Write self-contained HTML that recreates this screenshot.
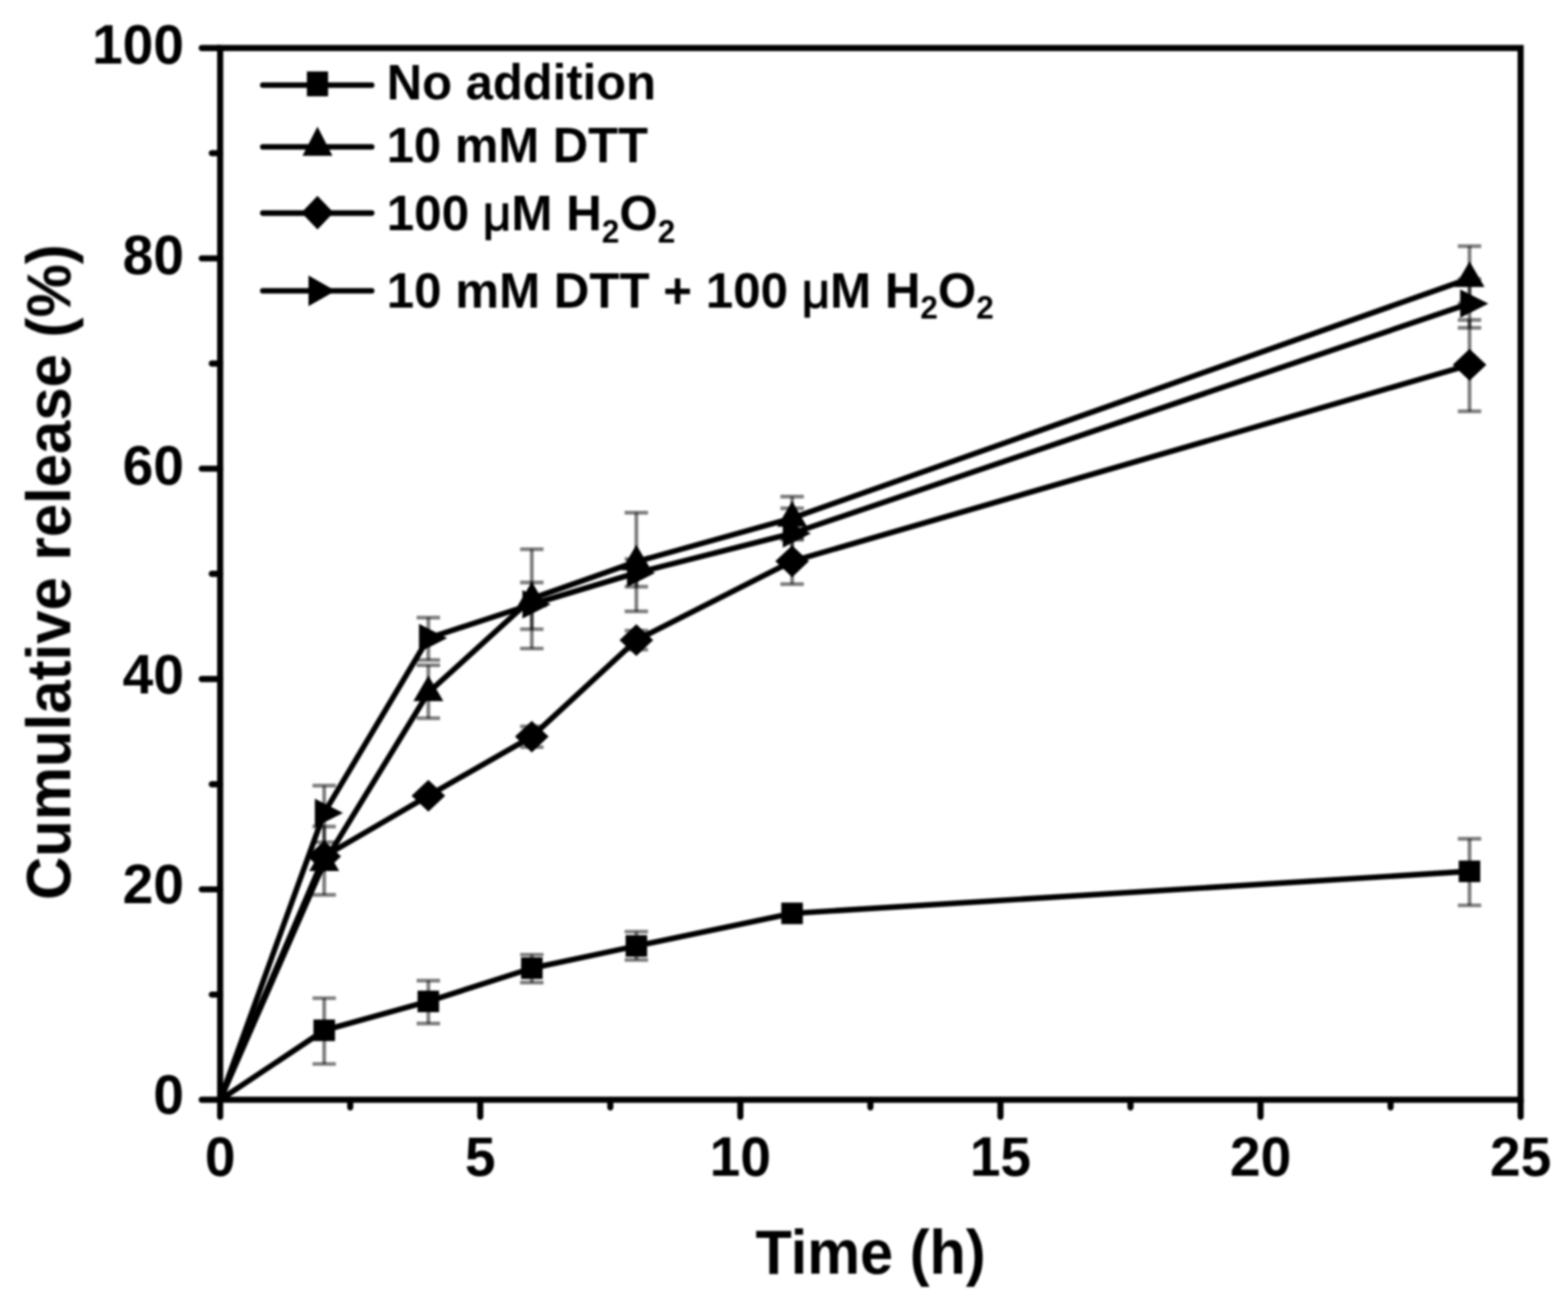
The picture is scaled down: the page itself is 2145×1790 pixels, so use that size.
<!DOCTYPE html>
<html><head><meta charset="utf-8"><title>Cumulative release</title>
<style>
html,body{margin:0;padding:0;background:#fff;}
svg{display:block;}
.sb{font-size:44.3px;}
.mu{font-weight:normal;stroke:#000;stroke-width:1.6px;}
</style></head>
<body>
<svg width="2145" height="1790" viewBox="0 0 2145 1790">
<defs><filter id="bl" x="-2%" y="-2%" width="104%" height="104%"><feGaussianBlur stdDeviation="1.6"/></filter></defs>
<rect width="2145" height="1790" fill="#fff"/>
<g filter="url(#bl)">
<g fill="none" stroke="#000" stroke-opacity="0.5" stroke-width="5.2"><path d="M443.5,1366.0V1456.0"/><path d="M427.5,1366.0H459.5"/><path d="M427.5,1456.0H459.5"/><path d="M586.0,1342.0V1400.7"/><path d="M570.0,1342.0H602.0"/><path d="M570.0,1400.7H602.0"/><path d="M727.5,1306.5V1344.6"/><path d="M711.5,1306.5H743.5"/><path d="M711.5,1344.6H743.5"/><path d="M870.5,1275.0V1313.6"/><path d="M854.5,1275.0H886.5"/><path d="M854.5,1313.6H886.5"/><path d="M2010.3,1147.8V1239.0"/><path d="M1994.3,1147.8H2026.3"/><path d="M1994.3,1239.0H2026.3"/><path d="M443.5,1131.2V1224.6"/><path d="M427.5,1131.2H459.5"/><path d="M427.5,1224.6H459.5"/><path d="M586.0,910.4V982.9"/><path d="M570.0,910.4H602.0"/><path d="M570.0,982.9H602.0"/><path d="M727.5,751.7V887.5"/><path d="M711.5,751.7H743.5"/><path d="M711.5,887.5H743.5"/><path d="M870.5,701.6V836.7"/><path d="M854.5,701.6H886.5"/><path d="M854.5,836.7H886.5"/><path d="M1083.6,679.6V738.6"/><path d="M1067.6,679.6H1099.6"/><path d="M1067.6,738.6H1099.6"/><path d="M2010.3,336.8V415.0"/><path d="M1994.3,336.8H2026.3"/><path d="M1994.3,415.0H2026.3"/><path d="M727.5,994.2V1022.5"/><path d="M711.5,994.2H743.5"/><path d="M711.5,1022.5H743.5"/><path d="M870.5,863.0V889.0"/><path d="M854.5,863.0H886.5"/><path d="M854.5,889.0H886.5"/><path d="M1083.6,736.7V799.3"/><path d="M1067.6,736.7H1099.6"/><path d="M1067.6,799.3H1099.6"/><path d="M2010.3,437.9V562.9"/><path d="M1994.3,437.9H2026.3"/><path d="M1994.3,562.9H2026.3"/><path d="M443.5,1075.2V1152.7"/><path d="M427.5,1075.2H459.5"/><path d="M427.5,1152.7H459.5"/><path d="M586.0,845.2V903.2"/><path d="M570.0,845.2H602.0"/><path d="M570.0,903.2H602.0"/><path d="M727.5,797.1V861.0"/><path d="M711.5,797.1H743.5"/><path d="M711.5,861.0H743.5"/><path d="M870.5,765.1V802.9"/><path d="M854.5,765.1H886.5"/><path d="M854.5,802.9H886.5"/><path d="M1083.6,695.6V764.4"/><path d="M1067.6,695.6H1099.6"/><path d="M1067.6,764.4H1099.6"/><path d="M2010.3,382.2V448.6"/><path d="M1994.3,382.2H2026.3"/><path d="M1994.3,448.6H2026.3"/></g>
<polyline points="301.2,1505.0 443.5,1410.0 586.0,1370.4 727.5,1325.0 870.5,1294.6 1083.6,1250.0 2010.3,1192.4" fill="none" stroke="#000" stroke-width="7.6" stroke-linejoin="round" stroke-linecap="round"/>
<polyline points="301.2,1505.0 443.5,1172.0 586.0,1089.0 727.5,1008.1 870.5,876.0 1083.6,768.1 2010.3,499.3" fill="none" stroke="#000" stroke-width="7.6" stroke-linejoin="round" stroke-linecap="round"/>
<polyline points="301.2,1505.0 443.5,1112.4 586.0,873.3 727.5,827.0 870.5,784.0 1083.6,730.0 2010.3,415.4" fill="none" stroke="#000" stroke-width="7.6" stroke-linejoin="round" stroke-linecap="round"/>
<polyline points="301.2,1505.0 443.5,1180.4 586.0,947.8 727.5,819.2 870.5,768.7 1083.6,709.1 2010.3,381.1" fill="none" stroke="#000" stroke-width="7.6" stroke-linejoin="round" stroke-linecap="round"/>
<g fill="#000"><rect x="428.8" y="1395.2" width="29.5" height="29.5"/><rect x="571.2" y="1355.7" width="29.5" height="29.5"/><rect x="712.8" y="1310.2" width="29.5" height="29.5"/><rect x="855.8" y="1279.8" width="29.5" height="29.5"/><rect x="1068.8" y="1235.2" width="29.5" height="29.5"/><rect x="1995.5" y="1177.7" width="29.5" height="29.5"/><path d="M443.5,1150.2L466.5,1172.0L443.5,1193.8L420.5,1172.0Z"/><path d="M586.0,1067.2L609.0,1089.0L586.0,1110.8L563.0,1089.0Z"/><path d="M727.5,986.4L750.5,1008.1L727.5,1029.8L704.5,1008.1Z"/><path d="M870.5,854.2L893.5,876.0L870.5,897.8L847.5,876.0Z"/><path d="M1083.6,746.4L1106.6,768.1L1083.6,789.9L1060.6,768.1Z"/><path d="M2010.3,477.6L2033.3,499.3L2010.3,521.0L1987.3,499.3Z"/><path d="M430.7,1092.9L469.2,1112.4L430.7,1131.9Z"/><path d="M573.2,853.8L611.7,873.3L573.2,892.8Z"/><path d="M714.7,807.5L753.2,827.0L714.7,846.5Z"/><path d="M857.7,764.5L896.2,784.0L857.7,803.5Z"/><path d="M1070.8,710.5L1109.3,730.0L1070.8,749.5Z"/><path d="M1997.5,395.9L2036.0,415.4L1997.5,434.9Z"/><path d="M443.5,1157.1L464.0,1192.1L423.0,1192.1Z"/><path d="M586.0,924.5L606.5,959.5L565.5,959.5Z"/><path d="M727.5,795.9L748.0,830.9L707.0,830.9Z"/><path d="M870.5,745.4L891.0,780.4L850.0,780.4Z"/><path d="M1083.6,685.8L1104.1,720.8L1063.1,720.8Z"/><path d="M2010.3,357.8L2030.8,392.8L1989.8,392.8Z"/></g>
<rect x="301.2" y="65.7" width="1779.0" height="1439.3" fill="none" stroke="#000" stroke-width="8.4"/>
<path d="M301.2,1505.0H275.9M301.2,1361.1H289.7M301.2,1217.1H275.9M301.2,1073.2H289.7M301.2,929.3H275.9M301.2,785.3H289.7M301.2,641.4H275.9M301.2,497.5H289.7M301.2,353.6H275.9M301.2,209.6H289.7M301.2,65.7H275.9M301.2,1505.0V1528.4M479.1,1505.0V1515.6M657.0,1505.0V1528.4M834.9,1505.0V1515.6M1012.8,1505.0V1528.4M1190.7,1505.0V1515.6M1368.6,1505.0V1528.4M1546.5,1505.0V1515.6M1724.4,1505.0V1528.4M1902.3,1505.0V1515.6M2080.2,1505.0V1528.4" stroke="#000" stroke-width="8.4" stroke-linecap="round" fill="none"/>
<g style="font-family:'Liberation Sans',sans-serif;font-weight:bold;font-size:75.4px" fill="#000"><text x="251.7" y="87.2" text-anchor="end">100</text><text x="251.7" y="375.4" text-anchor="end">80</text><text x="251.7" y="662.5" text-anchor="end">60</text><text x="251.7" y="949.4" text-anchor="end">40</text><text x="251.7" y="1236.2" text-anchor="end">20</text><text x="251.7" y="1524.1" text-anchor="end">0</text><text x="301.2" y="1609.1" text-anchor="middle">0</text><text x="657.0" y="1609.1" text-anchor="middle">5</text><text x="1012.8" y="1609.1" text-anchor="middle">10</text><text x="1368.6" y="1609.1" text-anchor="middle">15</text><text x="1724.4" y="1609.1" text-anchor="middle">20</text><text x="2080.2" y="1609.1" text-anchor="middle">25</text></g>
<text transform="translate(1190.9,1742.6) scale(0.953,1)" x="0" y="0" text-anchor="middle" style="font-family:'Liberation Sans',sans-serif;font-weight:bold;font-size:85.4px">Time (h)</text>
<text transform="translate(96,783) rotate(-90) scale(0.9587,1)" x="0" y="0" text-anchor="middle" style="font-family:'Liberation Sans',sans-serif;font-weight:bold;font-size:85.5px">Cumulative release (%)</text>
<g fill="#000"><path d="M359.5,116.5H508.5" stroke="#000" stroke-width="7.6" stroke-linecap="round"/><rect x="419.8" y="97.8" width="29" height="34"/><text transform="translate(529,136.3) scale(0.967,1)" x="0" y="0" style="font-family:'Liberation Sans',sans-serif;font-weight:bold;font-size:69.3px">No addition</text><path d="M359.5,201.0H508.5" stroke="#000" stroke-width="7.6" stroke-linecap="round"/><path d="M434.3,173.3L454.8,213.3L413.8,213.3Z"/><text transform="translate(529,221.6) scale(0.967,1)" x="0" y="0" style="font-family:'Liberation Sans',sans-serif;font-weight:bold;font-size:69.3px">10 mM DTT</text><path d="M359.5,291.6H508.5" stroke="#000" stroke-width="7.6" stroke-linecap="round"/><path d="M434.3,268.1L456.3,291.0L434.3,313.9L412.3,291.0Z"/><text transform="translate(529,314.6) scale(0.975,1)" x="0" y="0" style="font-family:'Liberation Sans',sans-serif;font-weight:bold;font-size:69.3px">100 <tspan class="mu">μ</tspan>M H<tspan class="sb" dy="17.2">2</tspan><tspan dy="-17.2">O</tspan><tspan class="sb" dy="17.2">2</tspan></text><path d="M359.5,398.0H508.5" stroke="#000" stroke-width="7.6" stroke-linecap="round"/><path d="M422.0,377.0L459.0,398.0L422.0,419.0Z"/><text transform="translate(529,420.8) scale(0.973,1)" x="0" y="0" style="font-family:'Liberation Sans',sans-serif;font-weight:bold;font-size:69.3px">10 mM DTT + 100 <tspan class="mu">μ</tspan>M H<tspan class="sb" dy="15.6">2</tspan><tspan dy="-15.6">O</tspan><tspan class="sb" dy="15.6">2</tspan></text></g>
</g>
</svg>
</body></html>
